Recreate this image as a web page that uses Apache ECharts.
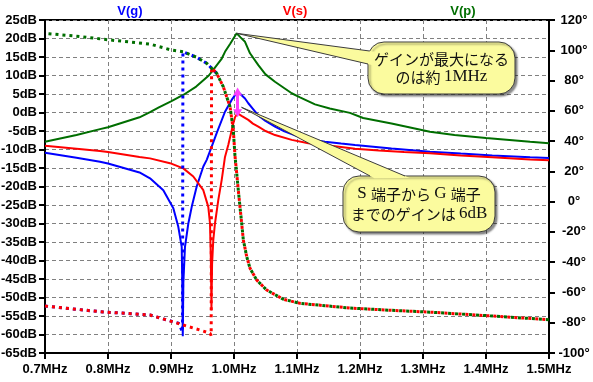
<!DOCTYPE html>
<html><head><meta charset="utf-8">
<script src="https://cdn.jsdelivr.net/npm/echarts@6/dist/echarts.min.js"></script>
<style>html,body{margin:0;padding:0;background:#fff}#c{width:593px;height:382px}</style>
</head><body><div id="c"></div>
<script>
// ---- data ----
const seriesNames = ['V(g)', 'V(s)', 'V(p)'];
const xTickMin = 0.7, xTickMax = 1.5, xTickStep = 0.1;   // MHz
const dbMin = -65, dbMax = 25, dbStep = 5;               // dB
const degMin = -100, degMax = 120, degStep = 20;         // degrees

// magnitude V(g)  (MHz, dB)
const fMagG = [0.70,0.75,0.7873,0.80,0.85,0.8667,0.8878,0.9037,0.9116,0.917,0.9179,0.9187,0.9196,0.9222,0.9275,0.9329,0.9408,0.9513,0.9567,0.9646,0.9725,0.9857,0.9963,1.0059,1.0175,1.0227,1.03,1.0386,1.05,1.0651,1.08,1.1021,1.12,1.1444,1.17,1.1921,1.25,1.311,1.36,1.41,1.47,1.50];
const vMagG = [-10.9,-12.2,-13.3,-13.8,-16.2,-17.8,-21.0,-25.9,-30.9,-36.3,-46.0,-60.5,-46.0,-36.3,-30.0,-25.5,-20.0,-14.6,-12.8,-9.2,-5.6,0.2,3.4,5.7,3.8,2.5,1.0,-0.8,-2.3,-3.8,-5.1,-6.5,-7.2,-7.9,-8.4,-8.8,-9.7,-10.6,-11.1,-11.6,-12.1,-12.3];
// magnitude V(s)
const fMagS = [0.70,0.75,0.7873,0.80,0.85,0.8667,0.8984,0.9195,0.9354,0.9513,0.9592,0.9619,0.9633,0.9642,0.9652,0.9671,0.9698,0.9751,0.9805,0.9857,0.991,0.9989,1.0016,1.0055,1.012,1.0227,1.03,1.0386,1.05,1.0651,1.0916,1.118,1.144,1.17,1.192,1.23,1.27,1.311,1.36,1.41,1.47,1.50];
const vMagS = [-9.0,-9.8,-10.4,-10.7,-12.0,-12.4,-13.7,-15.1,-17.3,-21.0,-25.5,-30.0,-40.0,-53.5,-41.0,-34.5,-30.0,-23.6,-18.2,-12.0,-8.7,-3.0,-1.3,-0.2,-0.9,-2.0,-3.0,-3.8,-5.0,-6.1,-7.4,-8.3,-8.8,-9.3,-9.8,-10.3,-10.7,-11.0,-11.6,-12.1,-12.7,-12.9];
// magnitude V(p)
const fMagP = [0.70,0.75,0.7873,0.80,0.85,0.8667,0.88,0.90,0.92,0.94,0.96,0.967,0.98,0.9857,0.994,1.0043,1.0104,1.0175,1.0254,1.0386,1.05,1.065,1.0916,1.1048,1.1286,1.152,1.184,1.205,1.25,1.311,1.35,1.40,1.47,1.50];
const vMagP = [-7.9,-6.1,-4.5,-4.0,-1.3,0.1,1.3,3.0,4.8,7.0,10.0,11.5,14.4,16.4,18.6,21.4,20.3,19.1,16.0,12.8,10.3,8.3,5.2,4.1,2.2,1.1,-0.1,-1.5,-3.0,-5.2,-6.1,-6.9,-7.9,-8.3];

// phase V(g)  (MHz, degrees) – beyond ~0.97 MHz it runs under V(s)/V(p) and is hidden
const fPhG = [0.70,0.7873,0.8667,0.8932,0.912,0.9183,0.9189,0.94,0.9567,0.9725];
const vPhG = [-69.0,-72.7,-74.9,-78.2,-80.3,-86.0,99.0,95.5,91.4,84.8];
// phase V(s)
const fPhS = [0.70,0.7873,0.8667,0.8932,0.9195,0.946,0.9619,0.9638,0.9644,0.9725,0.983,0.9937,0.9989,1.0016,1.0043,1.0068,1.0095,1.0122,1.0148,1.0202,1.0254,1.036,1.0519,1.0783,1.1048,1.1841,1.25,1.3111,1.40,1.50];
const vPhS = [-69.0,-72.7,-74.9,-78.2,-81.5,-84.8,-87.0,-88.5,88.5,84.8,75.9,62.7,47.3,30.0,18.7,7.7,-3.4,-14.3,-25.3,-36.4,-44.0,-51.8,-58.4,-64.5,-67.2,-70.3,-71.8,-73.0,-75.3,-78.0];
// phase V(p)
const fPhP = [0.70,0.75,0.8032,0.8667,0.90,0.9195,0.94,0.9567,0.9725,0.983,0.9937,0.9989,1.0016,1.0043,1.0068,1.0095,1.0122,1.0148,1.0202,1.0254,1.036,1.0519,1.0783,1.1048,1.1841,1.25,1.3111,1.40,1.50];
const vPhP = [111.2,109.3,106.8,104.1,100.2,99.0,95.5,91.4,84.8,75.9,62.7,47.3,30.0,18.7,7.7,-3.4,-14.3,-25.3,-36.4,-44.0,-51.8,-58.4,-64.5,-67.2,-70.3,-71.8,-73.0,-75.3,-78.0];

// annotations
const note1Lines = [['j','ゲインが最大になる'], ['j','のは約 ','s','1MHz']];
const note2Lines = [['s','S ','j','端子から ','s','G ','j','端子'], ['j','までのゲインは ','s','6dB']];
const note2Anchor = [1.012, 1.4];          // where the lower callout points (MHz, dB)
const gainArrowF = 1.0057;                  // frequency of the 6dB arrow
const gainArrowTop = 5.7, gainArrowBottom = -0.2;

// ---- styling ----
const BLUE = '#0000ff', RED = '#ff0000', GREEN = '#006e00';
const colors = [BLUE, RED, GREEN];
const dashOffsets = [0, 0, 3.5];
const gridLine = {show:true, lineStyle:{color:'#808080', type:[4,3], width:1}};
const axisFont = {color:'#000', fontFamily:'Liberation Sans, Arial, sans-serif', fontWeight:'bold', fontSize:13};
const pairs = (f, v) => f.map((x, i) => [x, v[i]]);

const chart = echarts.init(document.getElementById('c'), null, {renderer:'canvas'});

function magSeries(i, f, v) {
  return {
    type:'line', name:seriesNames[i], data:pairs(f, v), xAxisIndex:0, yAxisIndex:0,
    showSymbol:false, symbol:'none', silent:true, z:2,
    lineStyle:{color:colors[i], width:2}, itemStyle:{color:colors[i]}
  };
}
function phSeries(i, f, v) {
  return {
    type:'line', name:seriesNames[i] + ' phase', data:pairs(f, v), xAxisIndex:0, yAxisIndex:1,
    showSymbol:false, symbol:'none', silent:true, z:3,
    lineStyle:{color:colors[i], width:3, type:[3,4], dashOffset:dashOffsets[i], cap:'butt'},
    itemStyle:{color:colors[i]}
  };
}

const option = {
  animation:false,
  backgroundColor:'#fff',
  grid:{left:45, right:44, top:20, bottom:29, show:true, borderColor:'#000', borderWidth:2,
        backgroundColor:'transparent', containLabel:false, outerBoundsMode:'none'},
  xAxis:{type:'value', min:xTickMin, max:xTickMax, interval:xTickStep,
    axisLine:{show:true, onZero:false, lineStyle:{color:'#000', width:2}},
    axisTick:{show:true, length:6, lineStyle:{color:'#000', width:2}},
    axisLabel:Object.assign({formatter:v => v.toFixed(1) + 'MHz', margin:10}, axisFont),
    splitLine:gridLine},
  yAxis:[
    {type:'value', min:dbMin, max:dbMax, interval:dbStep, position:'left',
     axisLine:{show:true, onZero:false, lineStyle:{color:'#000', width:2}},
     axisTick:{show:true, length:6, lineStyle:{color:'#000', width:2}},
     axisLabel:Object.assign({formatter:'{value}dB', margin:8}, axisFont),
     splitLine:gridLine},
    {type:'value', min:degMin, max:degMax, interval:degStep, position:'right',
     axisLine:{show:true, onZero:false, lineStyle:{color:'#000', width:2}},
     axisTick:{show:true, length:6, lineStyle:{color:'#000', width:2}},
     axisLabel:Object.assign({formatter:'{value}°', margin:25, align:'center'}, axisFont,
       {fontFamily:'"Liberation Sans Narrow", "Arial Narrow", "Liberation Sans", sans-serif'}),
     splitLine:{show:false}}
  ],
  series:[
    magSeries(0, fMagG, vMagG),
    magSeries(1, fMagS, vMagS),
    magSeries(2, fMagP, vMagP),
    phSeries(0, fPhG, vPhG),
    phSeries(1, fPhS, vPhS),
    phSeries(2, fPhP, vPhP),
    {type:'line', name:'gain arrow', data:[], xAxisIndex:0, yAxisIndex:0, z:20, silent:true,
     markLine:{
      silent:true, symbol:['triangle','triangle'], symbolSize:[9,8],
      lineStyle:{color:'#ff40ff', width:3, type:'solid'}, itemStyle:{color:'#ff40ff'},
      label:{show:false}, emphasis:{disabled:true},
      data:[[{coord:[gainArrowF, gainArrowTop]}, {coord:[gainArrowF, gainArrowBottom]}]]
    }}
  ]
};
chart.setOption(option);

// ---- annotations (titles, callouts) ----
const toPx = p => chart.convertToPixel({xAxisIndex:0, yAxisIndex:0}, p);
const FILL = '#fbfb9e', EDGE = '#3c3c3c';
const rich = {
  j:{fontFamily:'Noto Sans CJK JP', fontSize:15, fill:'#111', color:'#111'},
  s:{fontFamily:'Liberation Serif', fontSize:17, fill:'#111', color:'#111'}
};
function richText(parts) {
  let s = '';
  for (let k = 0; k < parts.length; k += 2) s += '{' + parts[k] + '|' + parts[k+1] + '}';
  return s;
}
function bubble(box, tip, b1, b2, lines, lineGap) {
  const ext = b => {
    const dx = b[0] - tip[0], dy = b[1] - tip[1], L = Math.hypot(dx, dy);
    return [b[0] + dx / L * 5, b[1] + dy / L * 5];
  };
  const els = [
    {type:'rect', shape:{x:box.x, y:box.y, width:box.w, height:box.h, r:16},
     style:{fill:FILL, stroke:EDGE, lineWidth:1, shadowColor:'rgba(0,0,0,0.45)', shadowBlur:2, shadowOffsetX:2, shadowOffsetY:2}, z:100},
    {type:'polygon', shape:{points:[tip, ext(b1), ext(b2)]}, style:{fill:FILL}, z:101},
    {type:'polyline', shape:{points:[b1, tip, b2]}, style:{stroke:EDGE, lineWidth:1, fill:null}, z:102}
  ];
  const cx = box.x + box.w / 2;
  const cy0 = box.y + box.h / 2 - lineGap / 2 * (lines.length - 1);
  lines.forEach((ln, i) => {
    els.push({type:'text', z:103, style:{text:richText(ln), rich:rich, x:cx, y:cy0 + i * lineGap,
      align:'center', verticalAlign:'middle', textAlign:'center', textVerticalAlign:'middle'}});
  });
  return els;
}

// peak of V(p) magnitude
let iMax = 0; vMagP.forEach((v, i) => { if (v > vMagP[iMax]) iMax = i; });
const tip1 = toPx([fMagP[iMax], vMagP[iMax]]);
const tip2 = toPx(note2Anchor);

const graphics = [];
const titleX = [130, 295, 463];
seriesNames.forEach((n, i) => graphics.push({type:'text', z:50, style:{text:n, x:titleX[i], y:11,
  align:'center', verticalAlign:'middle', textAlign:'center', textVerticalAlign:'middle',
  fill:colors[i], font:'bold 13px "Liberation Sans", Arial, sans-serif'}}));
graphics.push(...bubble({x:368, y:42, w:147, h:52}, tip1, [369.6, 51], [368, 64], note1Lines, 18));
graphics.push(...bubble({x:343, y:176, w:152, h:56}, tip2, [370, 176], [405, 176], note2Lines, 20));
chart.setOption({graphic:graphics});
</script>
</body></html>
